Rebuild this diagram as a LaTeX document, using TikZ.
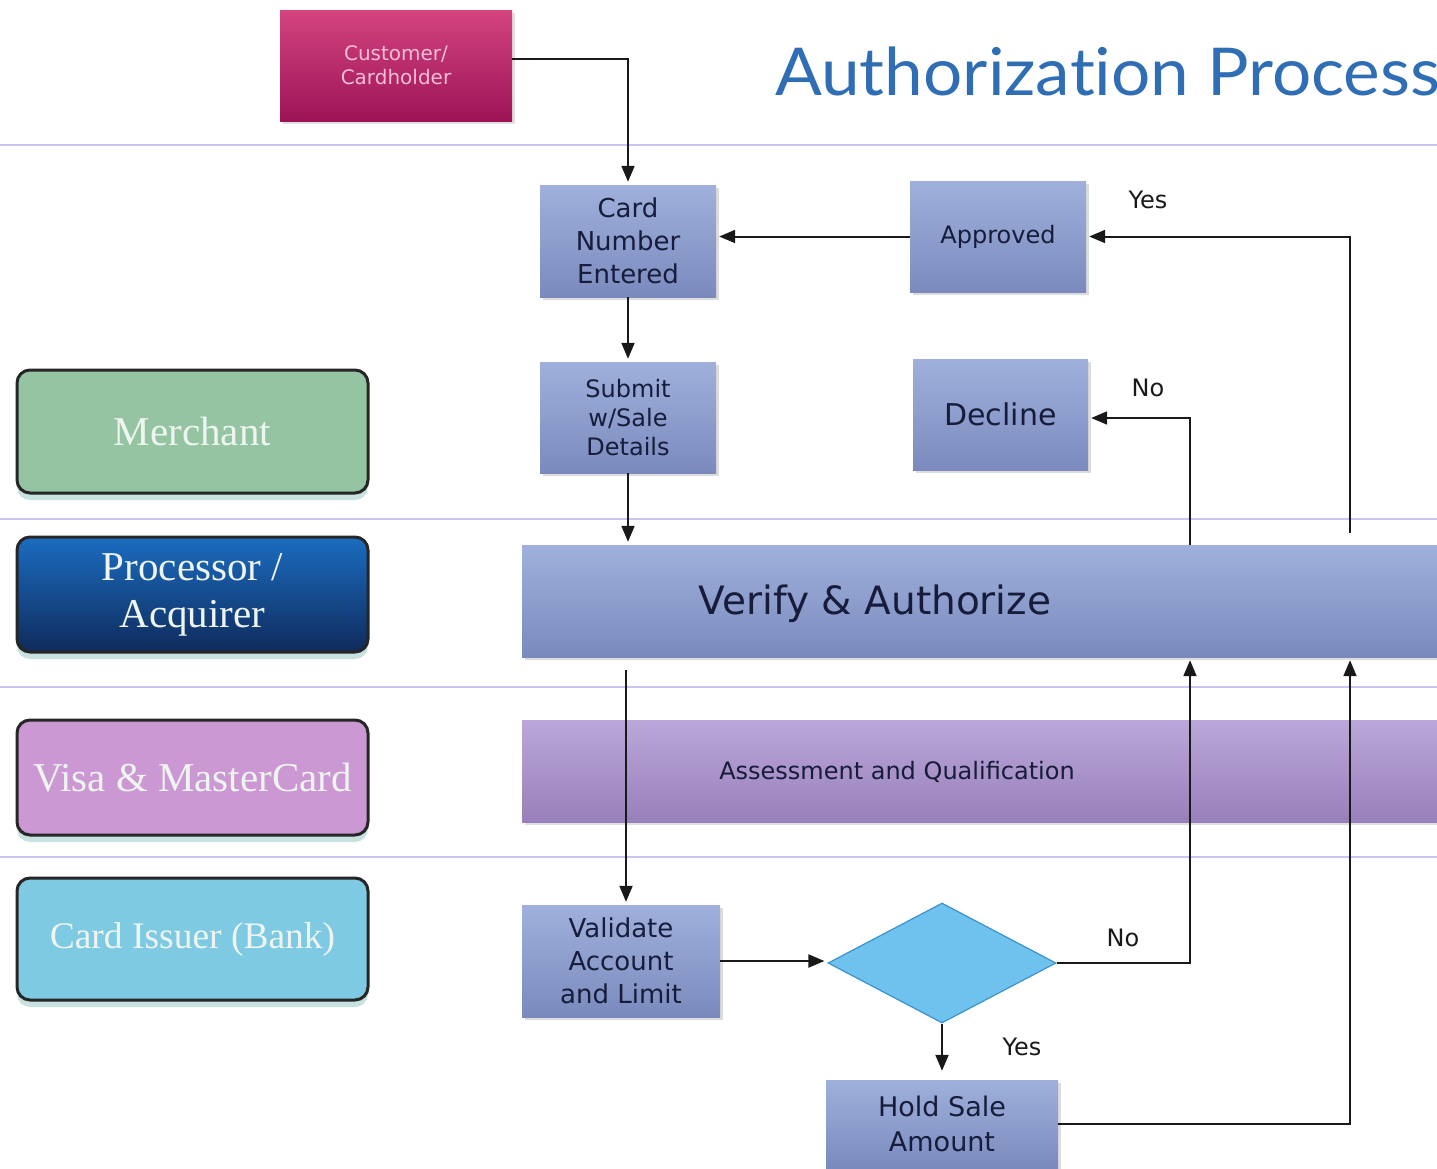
\documentclass[tikz,border=0pt]{standalone}
\usepackage{fontspec}
\setmainfont{Liberation Serif}
\newfontfamily\flowfont{DejaVu Sans}
\newfontfamily\titlefont{Lato}[Ligatures=NoCommon]
\usetikzlibrary{shapes.geometric,shadows,arrows.meta,calc}
\definecolor{custtop}{HTML}{D4447F}
\definecolor{custbot}{HTML}{9C1457}
\definecolor{custtext}{HTML}{F7BCD8}
\definecolor{flowtop}{HTML}{A0B0DC}
\definecolor{flowbot}{HTML}{7A8ABD}
\definecolor{flowtext}{HTML}{161C3A}
\definecolor{assesstop}{HTML}{BBA7D9}
\definecolor{assessbot}{HTML}{9880BA}
\definecolor{merchfill}{HTML}{94C4A2}
\definecolor{proctop}{HTML}{1B6CC0}
\definecolor{procbot}{HTML}{0F2B5C}
\definecolor{visafill}{HTML}{CB98D4}
\definecolor{issuerfill}{HTML}{7ECAE3}
\definecolor{lanetext}{HTML}{EEF5F0}
\definecolor{laneline}{HTML}{C9C3EE}
\definecolor{titleblue}{HTML}{2F6DB5}
\definecolor{diafill}{HTML}{6FC2EE}
\definecolor{diadraw}{HTML}{3A93CF}
\definecolor{shadowteal}{HTML}{9CC9C9}
\tikzset{
  flowbox/.style={rectangle, draw=none, top color=flowtop, bottom color=flowbot,
    drop shadow={shadow xshift=3pt, shadow yshift=-3pt, fill=black!30, opacity=0.45},
    text=flowtext, align=center, inner sep=0pt},
  lanebox/.style={rectangle, rounded corners=13pt, draw=black!85, line width=3pt,
    drop shadow={shadow xshift=0pt, shadow yshift=-7pt, fill=shadowteal, opacity=0.55},
    text=lanetext, align=center, inner sep=0pt,
    minimum width=351pt, font=\fontsize{41}{47}\selectfont},
  arr/.style={line width=2pt, draw=black!90, -{Triangle[length=16pt,width=13pt]}, shorten >=3pt},
  lbl/.style={font=\flowfont\fontsize{24}{28}\selectfont, text=black!90},
  lanesep/.style={draw=laneline, line width=2.2pt}
}
\begin{document}
\begin{tikzpicture}[x=1pt,y=-1pt]
\useasboundingbox (0,0) rectangle (1437,1168);
\clip (0,0) rectangle (1437,1168);
\fill[white] (0,0) rectangle (1437,1168);

% lane separators
\draw[lanesep] (0,145) -- (1437,145);
\draw[lanesep] (0,519) -- (1437,519);
\draw[lanesep] (0,687) -- (1437,687);
\draw[lanesep] (0,857) -- (1437,857);

% title
\node[anchor=base west, inner sep=0pt, text=titleblue,
  font=\titlefont\fontsize{66}{72}\selectfont] (title) at (775,95) {\scalebox{1.05}[1]{Authorization Process}};

% customer
\node[rectangle, top color=custtop, bottom color=custbot, text=custtext,
  drop shadow={shadow xshift=3pt, shadow yshift=-3pt, fill=black!30, opacity=0.4},
  minimum width=232pt, minimum height=111pt, align=center, inner sep=0pt,
  font=\flowfont\fontsize{20}{24}\selectfont] (cust) at (396,65.5) {Customer/\\Cardholder};

% lanes
\node[lanebox, fill=merchfill, minimum height=123pt] (merchant) at (192.5,431.5) {Merchant};
\node[lanebox, top color=proctop, bottom color=procbot, minimum height=115pt] (proc) at (192.5,594.5) {Processor /\\Acquirer};
\node[lanebox, fill=visafill, minimum height=115pt] (visa) at (192.5,777.5) {Visa \& MasterCard};
\node[lanebox, fill=issuerfill, minimum height=122pt, font=\fontsize{37.5}{44}\selectfont] (issuer) at (192.5,939) {Card Issuer (Bank)};

% flow boxes
\node[flowbox, font=\flowfont\fontsize{26}{33}\selectfont, minimum width=176pt, minimum height=112pt] (card) at (628,241) {Card\\Number\\Entered};
\node[flowbox, font=\flowfont\fontsize{24}{30}\selectfont, minimum width=176pt, minimum height=111pt] (appr) at (998,236.5) {Approved};
\node[flowbox, minimum width=176pt, minimum height=111pt, font=\flowfont\fontsize{24}{29}\selectfont] (submit) at (628,417.5) {Submit\\w/Sale\\Details};
\node[flowbox, font=\flowfont\fontsize{30}{36}\selectfont, minimum width=175pt, minimum height=111pt] (decline) at (1000.5,414.5) {Decline};
\node[flowbox, minimum width=978pt, minimum height=112pt] (verify) at (1011,601) {};
\node[font=\flowfont\fontsize{39}{46}\selectfont, text=flowtext, inner sep=0pt] (verifytxt) at (875,604) {Verify \& Authorize};
\node[rectangle, top color=assesstop, bottom color=assessbot, minimum width=978pt, minimum height=102pt,
  drop shadow={shadow xshift=3pt, shadow yshift=-3pt, fill=black!30, opacity=0.4}] (assess) at (1011,771) {};
\node[font=\flowfont\fontsize{24}{28}\selectfont, text=flowtext, inner sep=0pt] (assesstxt) at (897,772) {Assessment and Qualification};
\node[flowbox, minimum width=198pt, minimum height=112pt, font=\flowfont\fontsize{26}{33}\selectfont] (validate) at (621,961) {Validate\\Account\\and Limit};
\node[diamond, fill=diafill, draw=diadraw, line width=1.2pt, minimum width=228pt, minimum height=120pt, inner sep=0pt] (dia) at (942,963) {};
\node[flowbox, minimum width=232pt, minimum height=88pt, font=\flowfont\fontsize{27}{35}\selectfont] (hold) at (942,1124) {Hold Sale\\Amount};

% connectors
\draw[arr] ($(cust.east)+(0,-7)$) -| (card.north);
\draw[arr] (appr.west) -- (appr.west -| card.east);
\draw[arr] (card.south) -- (submit.north);
\draw[arr] (submit.south) -- (submit.south |- verify.north);
\draw[arr] ($(verify.south -| card.south)+(-2,13)$) -- ($(validate.north -| card.south)+(-2,0)$);
\draw[arr] (validate.east) -- (validate.east -| dia.west);
\draw[arr] (dia.east) -| ([xshift=179pt]verify.south);
\draw[arr] ([xshift=179pt]verify.north) |- ([yshift=-3.5pt]decline.east);
\draw[arr] ([xshift=339pt,yshift=12pt]verify.north) |- (appr.east);
\draw[arr] (dia.south) -- ($(hold.north)+(0,-6)$);
\draw[arr] (hold.east) -| ([xshift=339pt]verify.south);

% labels
\node[lbl] (yes1) at (1148,200) {Yes};
\node[lbl] (no1) at (1148,388) {No};
\node[lbl] (no2) at (1123,938) {No};
\node[lbl] (yes2) at (1022,1047) {Yes};
\end{tikzpicture}
\end{document}
